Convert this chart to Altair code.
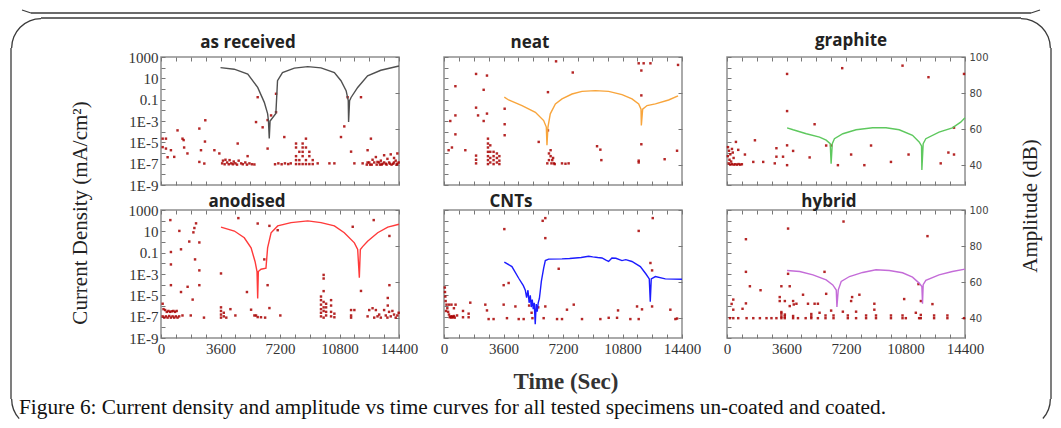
import altair as alt
import pandas as pd

# ---------------- data ----------------
names = ["as received", "neat", "graphite", "anodised", "CNTs", "hybrid"]
line_colors = ["#505050", "#f8a53c", "#5ec85e", "#ff3a3a", "#1c1cff", "#c46cd8"]
title_dx = [-32, -33, 5, -33, -52, -17]
title_dy = [7, 0, 3, 7.5, 1, 6]

# current density curves: time (s), current density (mA/cm2)
ar_t = [3600, 4430, 5250, 5850, 6250, 6450, 6500, 6550, 6600, 6950, 7050, 7350, 8070, 8880, 9680,
        10490, 10890, 11200, 11330, 11350, 11410, 11500, 11900, 12500, 13300, 14400]
ar_j = [100, 72, 25, 1.4, 0.056, 0.005, 1.1e-3, 2.3e-5, 1e-3, 5e-3, 6, 35, 90, 125, 95,
        35, 6, 0.7, 0.08, 8e-4, 0.08, 0.16, 1.4, 17, 57, 145]

ne_t = [3650, 3910, 4720, 5530, 6030, 6190, 6230, 6290, 6430, 6740, 7140, 7745, 8350, 9160, 9960,
        10770, 11375, 11780, 11920, 11940, 12020, 12285, 12790, 13590, 14160]
ne_j = [0.17, 0.093, 0.028, 6.6e-3, 1.1e-3, 2.7e-4, 5.3e-6, 2.7e-4, 4.7e-3, 0.04, 0.12, 0.34, 0.6, 0.7, 0.6,
        0.3, 0.12, 0.04, 0.013, 3.8e-4, 0.013, 0.028, 0.04, 0.093, 0.23]

gr_t = [3635, 4000, 4800, 5600, 6000, 6245, 6300, 6370, 6500, 7010, 7810, 8815, 9620, 10420, 11225,
        11625, 11770, 11790, 11870, 12030, 12830, 13635, 14140, 14400]
gr_j = [2.3e-4, 1.5e-4, 6.4e-5, 3.1e-5, 1.6e-5, 7.6e-6, 1e-7, 7.6e-6, 2.2e-5, 6.4e-5, 1.5e-4, 2.3e-4, 2.3e-4, 1.5e-4, 4.5e-5,
        1.1e-5, 4.6e-6, 2.5e-8, 7.6e-6, 2.2e-5, 9e-5, 2.3e-4, 7.8e-4, 2e-3]

an_t = [3630, 4440, 5040, 5450, 5690, 5810, 5850, 5890, 6050, 6350, 6450, 6660, 7060, 7870, 8880,
        9680, 10490, 11090, 11700, 11900, 12000, 12060, 12200, 12500, 13110, 13720, 14400]
an_j = [25, 10.7, 2.5, 0.28, 0.015, 1.7e-3, 5e-6, 1.7e-3, 2.8e-3, 3.5e-3, 0.28, 7.4, 32, 66, 96,
        66, 32, 7.4, 0.83, 0.2, 4.5e-4, 0.2, 0.37, 1.2, 7.4, 25, 46]

cn_t = [3650, 4110, 4520, 4800, 4920, 5000, 5080, 5150, 5220, 5280, 5340, 5400, 5460, 5520, 5580,
        5640, 5700, 5770, 5830, 5890, 6030, 6130, 6330, 7140, 7600, 7950, 8300, 8750, 9000, 9300,
        9560, 9800, 9960, 10160, 10400, 10770, 11000, 11370, 11880, 12220, 12420, 12480, 12540,
        12790, 13390, 14400]
cn_j = [0.013, 5e-3, 4e-4, 8e-5, 3e-5, 6e-6, 3e-5, 2e-6, 1e-5, 8e-7, 4e-6, 5e-7, 2e-6, 2e-8, 1.5e-6,
        3e-7, 2e-6, 5e-6, 3e-5, 2e-4, 3.5e-3, 0.018, 0.025, 0.026, 0.028, 0.032, 0.035, 0.046, 0.04, 0.035,
        0.032, 0.02, 0.015, 0.032, 0.03, 0.018, 0.022, 0.015, 5e-3, 1e-3, 3.5e-4, 2.5e-6, 3.5e-4,
        5.8e-4, 3.5e-4, 3.2e-4]

hy_t = [3635, 4400, 5200, 6000, 6400, 6610, 6650, 6730, 6910, 7410, 8210, 9015, 9820, 10620, 11225,
        11625, 11790, 11830, 11870, 12030, 12830, 13635, 14400]
hy_j = [2.1e-3, 1.7e-3, 8.3e-4, 2.8e-4, 9.4e-5, 3.1e-5, 8e-7, 3.1e-5, 2e-4, 5.8e-4, 1.4e-3, 2.5e-3, 2.1e-3, 1.3e-3, 5e-4,
        1.4e-4, 6.8e-5, 1.6e-6, 1e-4, 2.5e-4, 8.3e-4, 1.7e-3, 2.9e-3]

# acoustic emission hits: time (s), amplitude (dB)
ar_pt = [(100, 54.7), (300, 54.7), (100, 50), (300, 49.2), (600, 48.3), (800, 44.6), (400, 44.4),
         (1000, 59.3), (1300, 54.7), (1370, 53.9), (1400, 49.8), (1600, 46.5), (2320, 60.3), (2420, 48.3),
         (2680, 64.9), (2660, 53.1), (2320, 41.8), (2620, 40.9), (3230, 48.3), (3530, 46.5),
         (3700, 41), (3750, 42.5), (3850, 40.5), (3900, 43), (4000, 41.5), (4100, 40.5), (4150, 42.8),
         (4250, 41), (4350, 40.5), (4400, 42), (4500, 41), (4600, 40.3), (4700, 42.5), (4850, 41),
         (4950, 40.5), (5100, 41.5), (5200, 40.3), (5350, 41), (5500, 40.5), (5650, 40.4),
         (4640, 52), (5240, 45), (5750, 63.9), (5850, 77.7), (6150, 61), (6450, 49.2), (6450, 65),
         (6660, 67.6), (6960, 79.6), (6960, 69.4), (7460, 55.6),
         (6900, 40.5), (7100, 41), (7300, 40.5), (7500, 41), (7700, 40.6), (7850, 41),
         (8170, 52), (8170, 49.8), (8170, 45), (8170, 42.8), (8170, 40.6), (8370, 47.4), (8370, 42.8),
         (8370, 40.6), (8570, 52), (8570, 49.8), (8570, 47.4), (8570, 45), (8570, 40.6), (8770, 54.7),
         (8770, 49.8), (8770, 42.8), (8770, 40.6), (8975, 47.4), (8975, 45), (8975, 40.6), (9180, 40.6),
         (9180, 42.8), (9480, 41), (10190, 41), (10490, 41), (10890, 55.6), (11090, 61.5), (11290, 77.7),
         (12100, 77.7), (11500, 47.5), (11700, 41), (12200, 41), (12500, 48.3), (12700, 54.7),
         (12450, 40.3), (12600, 41.5), (12750, 40.3), (12900, 41.5), (13050, 40.3), (13200, 41.5),
         (13350, 40.3), (13500, 41.5), (13650, 40.3), (13800, 41.5), (13950, 40.3), (14100, 41.5),
         (14250, 40.3), (14380, 41.5), (12500, 41.5), (12650, 40.3), (12800, 43), (13000, 44.5),
         (13300, 42.5), (13500, 45.5), (13700, 43.5), (13900, 46), (14100, 44), (14300, 46.5),
         (14200, 42.5), (13100, 41.8), (13250, 40.3), (13600, 40.8), (13850, 40.8), (14050, 40.8),
         (14300, 40.8), (13400, 40.8)]

ne_pt = [(280, 48.3), (480, 49.8), (380, 64.5), (690, 67.6), (690, 83.8), (690, 57.1), (1290, 48.3),
         (1940, 90.6), (2600, 89.7), (2400, 81.8), (1940, 71.9), (2060, 67.6), (2600, 68.6), (2400, 64.5),
         (1940, 45.3), (1940, 43), (1940, 41), (2660, 54.7), (2660, 52), (2660, 49.8), (2660, 47.4),
         (2660, 45), (2660, 42.8), (2660, 40.6), (2800, 51), (2800, 47.4), (2800, 44), (2800, 41.5),
         (3000, 47.4), (3000, 45), (3000, 42.8), (3000, 40.6), (3200, 46.5), (3200, 44), (3200, 41.5),
         (3350, 45), (3350, 42.5), (3350, 40.6), (3670, 71.3), (3670, 62.7), (3670, 56.6), (5730, 52.9),
         (6290, 80.5), (6290, 59.3), (6250, 41), (6350, 42.8), (6450, 45), (6450, 48.3), (6500, 41),
         (6600, 44), (6650, 41), (6700, 40.6), (6350, 46.5), (6550, 42.8), (7140, 41), (7350, 40.8),
         (7540, 41), (6780, 97.6), (7790, 91.4), (9260, 50.5), (9460, 48.6), (9520, 42.8), (11780, 96.5),
         (12080, 96.5), (12490, 96.5), (11940, 92.5), (11940, 78.7), (11940, 51.6), (11780, 42.5),
         (11780, 41.5), (13350, 43.3), (14160, 95.6), (14100, 48)]

gr_pt = [(3635, 90.6), (3635, 70), (3635, 51), (3635, 40), (4000, 47.9), (5300, 62.7), (5000, 44.3),
         (6000, 50.9), (6300, 50.9), (6710, 40), (6970, 93.8), (7510, 45.9), (8310, 40), (8715, 50.9),
         (9920, 41.8), (10620, 95.2), (10985, 45.9), (12190, 88.8), (12930, 41), (13395, 47), (13735, 45.9),
         (13735, 60.8), (14340, 90.6), (540, 52.9), (1690, 53.8), (680, 48.5), (1085, 45.9), (1590, 41.8),
         (2190, 41.8), (2990, 49.4), (2990, 44.7), (3390, 44.7), (2890, 41), (60, 50), (120, 48), (200, 46),
         (300, 49), (400, 44), (150, 43), (250, 42), (100, 41), (200, 40.3), (300, 40.6), (400, 40.3),
         (500, 40.5), (600, 40.3), (700, 40.6), (800, 40.3), (900, 40.5), (50, 45), (350, 47)]

an_pt = [(565, 94.4), (600, 76.7), (600, 69.8), (600, 58.3), (1110, 88.4), (1210, 78.2), (1210, 54.5),
         (1610, 57.4), (1710, 82.5), (1915, 50.3), (1960, 87.6), (2020, 90), (2120, 92.6), (2060, 72.6),
         (2320, 66.5), (2320, 82), (2320, 58.3), (3630, 64.8), (4680, 95.5), (5200, 54.5), (5450, 44.7),
         (5850, 92.5), (6250, 72.6), (6450, 58.3), (6560, 91.2), (6560, 45.6), (7060, 88.8), (11600, 90.7),
         (12100, 55.1), (12870, 94.4), (13820, 58.3), (13820, 85.6), (13720, 51.2), (13720, 47),
         (100, 48), (150, 45), (250, 44.5), (350, 43.5), (450, 44), (550, 43.5), (650, 43.8), (750, 44),
         (850, 43.5), (950, 44), (100, 41), (200, 40.3), (300, 41), (400, 40.3), (500, 41.2), (600, 40.3),
         (700, 41), (800, 40.3), (900, 41), (1000, 40.3), (1100, 41), (1300, 41.5), (1800, 41.5),
         (2600, 40.3), (3630, 46), (3630, 44), (3630, 42), (3630, 40.3), (3800, 43), (3800, 41),
         (3950, 40.3), (4200, 45), (4500, 41.5), (5650, 41.5), (5750, 41.5), (5850, 40.6), (6050, 40.5),
         (6300, 40.3), (7220, 41.5), (9680, 41), (9680, 43), (9680, 45), (9680, 47.5), (9680, 50),
         (9680, 52), (9840, 40.3), (9840, 44), (9840, 46), (9840, 49), (9840, 55), (9840, 62), (9840, 64),
         (9990, 41.5), (9990, 43.5), (9990, 46), (9990, 48), (10290, 41), (10290, 43.5), (10290, 47),
         (10290, 50), (10490, 40.5), (10490, 42.5), (11500, 44.5), (11500, 41.5), (11500, 40.3),
         (11700, 44.5), (12500, 41), (12600, 44.5), (12800, 45.5), (13000, 44.5), (13100, 41),
         (13300, 40.3), (13500, 44.5), (13600, 41.5), (13700, 40.3), (13800, 43.5), (13900, 41),
         (14000, 44), (14100, 42), (14200, 40.3), (14300, 41.5), (14380, 43), (12900, 40.3), (13200, 42)]

cn_pt = [(3650, 89.4), (5970, 94), (6130, 95.5), (6130, 84.4), (6940, 67.4), (3610, 58.3), (3910, 59.5),
         (3610, 47.5), (11780, 88.4), (12630, 95.5), (12490, 70.6), (12590, 66.5), (12590, 46.5),
         (11680, 46.5), (13695, 44.7), (14100, 39.8), (50, 57), (60, 54.5), (80, 52), (100, 49.5),
         (150, 47.5), (200, 45.5), (120, 44), (250, 43.5), (300, 42), (350, 40.5), (400, 41), (450, 40.3),
         (500, 41), (550, 40.5), (600, 41.2), (650, 40.3), (700, 47.5), (300, 47.5), (450, 47.5),
         (600, 45.5), (1590, 48.6), (2500, 47.5), (2600, 44.3), (1490, 42.5), (1490, 40.5), (790, 41.5),
         (2700, 39.5), (3000, 39.5), (3810, 40), (4520, 39.5), (4820, 39.5), (4320, 46.5), (6030, 40),
         (6130, 46.5), (6840, 39.5), (7140, 39.5), (7440, 44.7), (7850, 47.5), (8350, 39.5), (9460, 39.5),
         (9965, 40.2), (10470, 40.2), (10530, 44.3), (11275, 39.5), (11780, 39.5), (11980, 44.9),
         (14000, 39.5), (1150, 44), (1150, 40.5), (5350, 40), (5150, 47), (5700, 46), (5300, 43)]

hy_pt = [(7050, 93.6), (3695, 89.7), (1145, 83.8), (12130, 85.5), (1145, 65.7), (3695, 64.6), (5900, 65.7),
         (1385, 57.7), (2030, 55.5), (3290, 57.7), (3795, 57.7), (4600, 53), (380, 50.3), (280, 47.9),
         (380, 44.7), (940, 45.2), (1145, 48.2), (3190, 51.7), (3190, 49.5), (3500, 49.5), (4000, 49.5),
         (4040, 47.6), (4200, 48), (3795, 46.7), (3290, 43.4), (3290, 42.5), (3500, 42), (4900, 48),
         (5300, 48), (5500, 48), (6000, 53.5), (7510, 49.5), (7570, 51.7), (8010, 53), (8915, 48),
         (8915, 44.7), (7810, 43.6), (7010, 43.6), (6300, 44.2), (5100, 42.3), (5600, 43), (10720, 50.6),
         (11730, 49.5), (11585, 58.9), (12430, 47.8), (11425, 43),
         (180, 40), (380, 40), (680, 40), (1185, 40), (1590, 40), (1990, 40), (2390, 40), (2690, 40),
         (2990, 40), (3290, 40), (3495, 40), (4000, 40), (4295, 40), (4760, 40), (5100, 40), (5500, 40),
         (5960, 40), (6445, 40), (7310, 40), (7810, 40), (8415, 40), (9015, 40), (9920, 40), (10620, 40),
         (10820, 40), (11625, 40), (11725, 40), (12530, 40), (13335, 40), (14340, 40),
         (8415, 41.5), (9015, 41.5), (9920, 41.5), (10620, 41.5), (11725, 41.8), (12530, 41.5),
         (13335, 41.5), (7310, 41.5), (5960, 41.5), (6445, 41.5), (3290, 41), (3495, 41), (4000, 41.2),
         (5100, 41)]

line_t = [ar_t, ne_t, gr_t, an_t, cn_t, hy_t]
line_j = [ar_j, ne_j, gr_j, an_j, cn_j, hy_j]
pts = [ar_pt, ne_pt, gr_pt, an_pt, cn_pt, hy_pt]

x_ticks = list(range(0, 14401, 900))
y_ticks = [1e3, 1e2, 1e1, 1, 1e-1, 1e-2, 1e-3, 1e-4, 1e-5, 1e-6, 1e-7, 1e-8, 1e-9]
amp_ticks = [40, 60, 80, 100]

LOGLAB = ("round(log(datum.value)/LN10) % 2 == 0 ? '' : datum.value >= 10 ? format(datum.value, 'd') : "
          "datum.value > 0.05 ? '0.1' : '1E-' + format(-round(log(datum.value)/LN10), 'd')")

W, H = 238, 128


def panel(i):
    row, col = divmod(i, 3)
    ldf = pd.DataFrame({"t": line_t[i], "j": line_j[i], "k": list(range(len(line_t[i])))})
    pdf = pd.DataFrame({"t": [p[0] for p in pts[i]], "a": [p[1] for p in pts[i]]})
    xs = alt.Scale(domain=[0, 14400], nice=False, zero=False)
    hits = alt.Chart(pdf).mark_square(size=6, color="#a80000", opacity=0.85).encode(
        x=alt.X("t:Q", scale=xs, axis=alt.Axis(orient="top", values=x_ticks, labels=False, title=None,
                                                 offset=-4, tickSize=4)),
        y=alt.Y("a:Q", scale=alt.Scale(domain=[29, 100], nice=False, zero=False),
                axis=alt.Axis(orient="right", values=amp_ticks, labels=(col == 2), title=None, offset=-4,
                              tickSize=4, labelPadding=4, labelFont="DejaVu Sans", labelFontSize=10,
                              labelColor="#444", labelFlush=False)),
    )
    curve = alt.Chart(ldf).mark_line(color=line_colors[i], strokeWidth=1.4).encode(
        x=alt.X("t:Q", scale=xs, axis=alt.Axis(orient="bottom", values=x_ticks, format="d", labels=(row == 1),
                                                 labelExpr="datum.value % 3600 == 0 ? datum.label : ''",
                                                 title=None, offset=-4, tickSize=4, labelPadding=3,
                                                 labelOverlap=False, labelFlush=False)),
        y=alt.Y("j:Q", scale=alt.Scale(type="log", domain=[1e-9, 1000], nice=False),
                axis=alt.Axis(orient="left", values=y_ticks, labels=(col == 0), labelExpr=LOGLAB, title=None,
                              offset=-4, tickSize=4, labelPadding=3, labelOverlap=False, labelFlush=False)),
        order="k:Q",
    )
    return alt.layer(hits, curve).resolve_scale(y="independent").resolve_axis(
        x="independent", y="independent").properties(
        width=W, height=H,
        title=alt.TitleParams(names[i], dx=title_dx[i], dy=title_dy[i], offset=(5 if row == 0 else 0),
                              frame="group", font="Open Sans", fontSize=17, fontWeight="bold", color="#222"))


# ---------- decorations (texts and frame), positioned relative to an extra cell ----------
dummy = pd.DataFrame({"d": [0]})
INK = "#3a3a3a"


def txt(text, x, y, **kw):
    return alt.Chart(dummy).mark_text(text=text, **kw).encode(x=alt.value(x), y=alt.value(y))


def seg(x1, y1, x2, y2, **kw):
    style = dict(color=INK, strokeWidth=1.3)
    style.update(kw)
    return alt.Chart(dummy).mark_rule(**style).encode(
        x=alt.value(x1), y=alt.value(y1), x2=alt.value(x2), y2=alt.value(y2))


def corner(cx, cy, t1, t2):
    return alt.Chart(dummy).mark_arc(radius=30, radius2=28.7, theta=t1, theta2=t2, color=INK).encode(
        x=alt.value(cx), y=alt.value(cy))


decos = [
    seg(-152, -354, -152, -354, strokeWidth=0, opacity=0),
    txt("Current Density (mA/cm²)", -80, -150, angle=270, font="Liberation Serif", fontSize=21,
        color="#222", align="center", baseline="middle"),
    txt("Amplitude (dB)", 870, -157, angle=270, font="Liberation Serif", fontSize=21,
        color="#222", align="center", baseline="middle"),
    txt("Time (Sec)", 405, 19, font="Liberation Serif", fontSize=23, fontWeight="bold",
        color="#333", align="center", baseline="middle"),
    txt("Figure 6: Current density and amplitude vs time curves for all tested specimens un-coated and coated.",
        -142, 45, font="Liberation Serif", fontSize=21.3, color="#111", align="left", baseline="middle"),
    seg(-130, -350, 870, -350),
    seg(-130, -350, -139, -353),
    seg(870, -350, 879, -353),
    seg(-120, -345, 860, -345),
    seg(-150, -315, -150, 36),
    seg(890, -315, 890, 36),
    corner(-120, -315, 4.712, 6.283),
    corner(860, -315, 0, 1.571),
    corner(-120, 36, 3.98, 4.712),
    corner(860, 36, 1.571, 2.30),
]
deco = alt.layer(*decos).properties(width=W, height=4, view=alt.ViewBackground(stroke="transparent"))

chart = alt.concat(*[panel(i) for i in range(6)], deco, columns=3,
                   spacing={"row": 25, "column": 45}, bounds="flush").properties(
    padding=0, background="white"
).configure_view(stroke="#8f8f8f", strokeWidth=1.5).configure_axis(
    grid=False, domain=False, tickColor="#777", tickWidth=1, labelFont="Liberation Serif", labelFontSize=15,
    labelColor="#333")

chart.save("out.html", embed_options={"renderer": "svg", "actions": False})
